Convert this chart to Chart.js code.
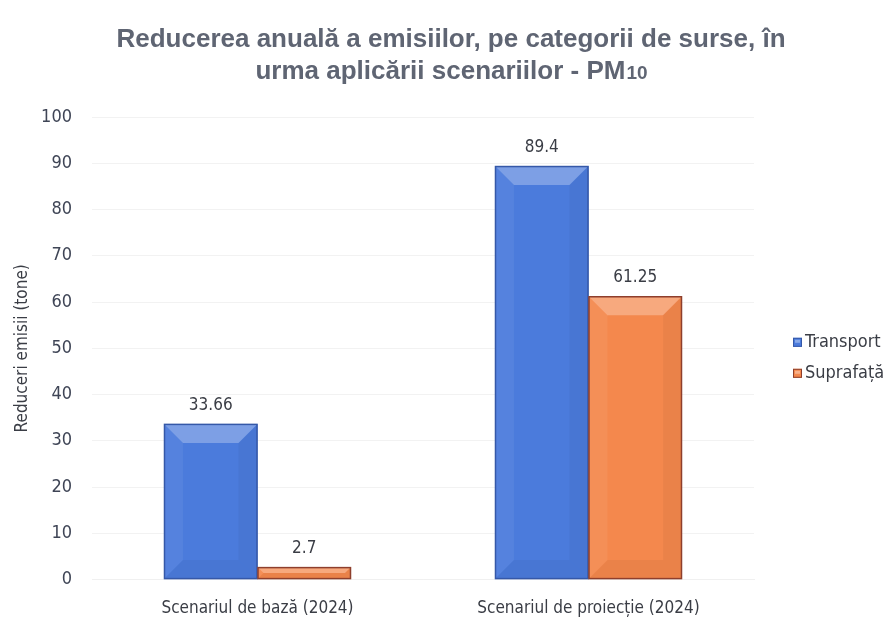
<!DOCTYPE html>
<html lang="ro">
<head>
<meta charset="utf-8">
<title>Reducerea anuală a emisiilor - PM10</title>
<script src="https://cdn.jsdelivr.net/npm/chart.js@4.4.1/dist/chart.umd.min.js"></script>
<style>
  html, body { margin: 0; padding: 0; background: #fff; }
  #wrap { width: 890px; height: 630px; position: relative; }
</style>
</head>
<body>
<div id="wrap"><canvas id="pmChart"></canvas></div>
<script>
// ── DATA ──
const scenarios = ['Scenariul de bază (2024)', 'Scenariul de proiecție (2024)'];
const transport = [33.66, 89.4];
const suprafata = [2.7, 61.25];
const yTicks = [0, 10, 20, 30, 40, 50, 60, 70, 80, 90, 100];

const NARROW = "'Liberation Sans Narrow', 'Arial Narrow', 'DejaVu Sans Condensed', sans-serif";
const TEXT = '#3a3d45';
const TITLE_FONT = "'Liberation Sans', Arial, sans-serif";

// beveled look on every bar, using the element geometry from the bar controller
const bevelPlugin = {
    id: 'bevel',
    afterDatasetsDraw(chart) {
        const ctx = chart.ctx;
        chart.data.datasets.forEach((ds, i) => {
            chart.getDatasetMeta(i).data.forEach(bar => {
                const l = bar.x - bar.width / 2, r = bar.x + bar.width / 2;
                const t = Math.min(bar.y, bar.base), b = Math.max(bar.y, bar.base);
                const s = Math.min(19, bar.width / 4, (b - t) / 2);
                const poly = (pts, fill) => {
                    ctx.beginPath();
                    ctx.moveTo(pts[0][0], pts[0][1]);
                    pts.slice(1).forEach(p => ctx.lineTo(p[0], p[1]));
                    ctx.closePath();
                    ctx.fillStyle = fill;
                    ctx.fill();
                };
                ctx.save();
                poly([[l, t], [r, t], [r - s, t + s], [l + s, t + s]], 'rgba(255,255,255,0.28)');
                poly([[l, t], [l + s, t + s], [l + s, b - s], [l, b]], 'rgba(255,255,255,0.06)');
                poly([[r, t], [r, b], [r - s, b - s], [r - s, t + s]], 'rgba(0,0,0,0.04)');
                poly([[l, b], [l + s, b - s], [r - s, b - s], [r, b]], 'rgba(0,0,0,0.04)');
                ctx.lineWidth = 1.5;
                ctx.strokeStyle = ds.borderColor;
                ctx.strokeRect(l + 0.5, t + 0.5, r - l - 1, b - t - 1);
                ctx.restore();
            });
        });
    }
};

// value labels above each bar
const valueLabels = {
    id: 'valueLabels',
    afterDatasetsDraw(chart) {
        const ctx = chart.ctx;
        ctx.save();
        ctx.font = '17px ' + NARROW;
        ctx.fillStyle = TEXT;
        ctx.textAlign = 'center';
        ctx.textBaseline = 'bottom';
        chart.data.datasets.forEach((ds, i) => {
            chart.getDatasetMeta(i).data.forEach((bar, j) => {
                ctx.fillText(String(ds.data[j]), bar.x, bar.y - 10);
            });
        });
        ctx.restore();
    }
};

// legend to the right of the plot, vertically centred on it
const sideLegend = {
    id: 'sideLegend',
    afterDraw(chart) {
        const ctx = chart.ctx;
        const area = chart.chartArea;
        const x = area.right + 39;
        const y0 = (area.top + area.bottom) / 2 - 6;
        ctx.save();
        ctx.font = '18px ' + NARROW;
        ctx.textBaseline = 'middle';
        chart.data.datasets.forEach((ds, i) => {
            const y = y0 + i * 31;
            ctx.fillStyle = ds.backgroundColor;
            ctx.fillRect(x, y - 4.5, 9, 9);
            ctx.fillStyle = 'rgba(255,255,255,0.35)';
            ctx.fillRect(x + 2, y - 2.5, 5, 3);
            ctx.strokeStyle = ds.borderColor;
            ctx.lineWidth = 1;
            ctx.strokeRect(x + 0.5, y - 4, 8, 8);
            ctx.fillStyle = TEXT;
            ctx.fillText(ds.label, x + 12, y);
        });
        ctx.restore();
    }
};

// two-line title centred on the whole canvas, "10" of PM10 set smaller
const pageTitle = {
    id: 'pageTitle',
    afterDraw(chart) {
        const ctx = chart.ctx;
        const cx = chart.width / 2 + 6;
        ctx.save();
        ctx.fillStyle = '#5f6573';
        ctx.textBaseline = 'alphabetic';
        ctx.textAlign = 'left';
        const big = 'bold 26px ' + TITLE_FONT, small = 'bold 19px ' + TITLE_FONT;
        const line1 = 'Reducerea anuală a emisiilor, pe categorii de surse, în';
        ctx.font = big;
        ctx.fillText(line1, cx - ctx.measureText(line1).width / 2, 47);
        const head = 'urma aplicării scenariilor - PM', tail = '10';
        const wHead = ctx.measureText(head).width;
        ctx.font = small;
        const wTail = ctx.measureText(tail).width;
        const x0 = cx - (wHead + wTail) / 2;
        ctx.font = big;
        ctx.fillText(head, x0, 79);
        ctx.font = small;
        ctx.fillText(tail, x0 + wHead + 1, 79);
        ctx.restore();
    }
};

new Chart(document.getElementById('pmChart'), {
    type: 'bar',
    data: {
        labels: scenarios,
        datasets: [
            { label: 'Transport', data: transport, backgroundColor: '#4b7bdc', borderColor: '#3558a8', borderWidth: 0 },
            { label: 'Suprafață', data: suprafata, backgroundColor: '#f4884d', borderColor: '#8e3f2c', borderWidth: 0 }
        ]
    },
    options: {
        responsive: true, maintainAspectRatio: false, animation: false,
        layout: { padding: { left: 0, right: 136, top: 117, bottom: 0 } },
        datasets: { bar: { barPercentage: 1, categoryPercentage: 0.565 } },
        plugins: {
            title: { display: false },
            legend: { display: false },
            tooltip: { enabled: false }
        },
        scales: {
            x: {
                grid: { display: false },
                border: { display: true, color: '#f0f0f0' },
                ticks: { color: TEXT, font: { family: NARROW, size: 17 }, padding: 11 }
            },
            y: {
                min: 0, max: 100,
                afterBuildTicks(scale) { scale.ticks = yTicks.map(v => ({ value: v })); },
                afterFit(scale) { scale.width = 92; },
                grid: { color: '#f2f2f2', drawTicks: false },
                border: { display: false },
                title: { display: true, text: 'Reduceri emisii (tone)', color: TEXT, font: { family: NARROW, size: 17 }, padding: { top: 12, bottom: 0 } },
                ticks: { color: '#3f4556', font: { family: NARROW, size: 18 }, padding: 20 }
            }
        }
    },
    plugins: [bevelPlugin, valueLabels, sideLegend, pageTitle]
});
</script>
</body>
</html>
